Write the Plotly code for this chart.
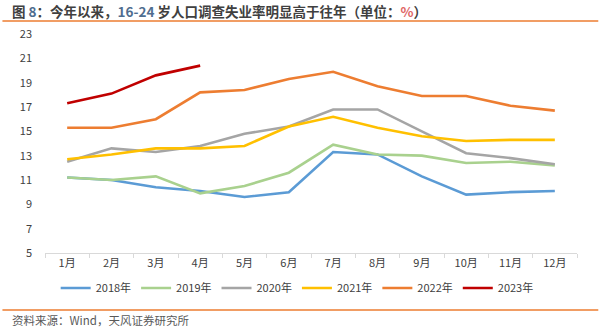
import plotly.graph_objects as go

months = ["1月", "2月", "3月", "4月", "5月", "6月", "7月", "8月", "9月", "10月", "11月", "12月"]
y2018 = [11.2, 11.0, 10.4, 10.1, 9.6, 10.0, 13.3, 13.1, 11.3, 9.8, 10.0, 10.1]
y2019 = [11.2, 11.0, 11.3, 9.9, 10.5, 11.6, 13.9, 13.1, 13.0, 12.4, 12.5, 12.2]
y2020 = [12.5, 13.6, 13.3, 13.8, 14.8, 15.4, 16.8, 16.8, 15.0, 13.2, 12.8, 12.3]
y2021 = [12.7, 13.1, 13.6, 13.6, 13.8, 15.4, 16.2, 15.3, 14.6, 14.2, 14.3, 14.3]
y2022 = [15.3, 15.3, 16.0, 18.2, 18.4, 19.3, 19.9, 18.7, 17.9, 17.9, 17.1, 16.7]
y2023 = [17.3, 18.1, 19.6, 20.4]

series = [
    ("2018年", y2018, "#5B9BD5"),
    ("2019年", y2019, "#A9D18E"),
    ("2020年", y2020, "#A5A5A5"),
    ("2021年", y2021, "#FFC000"),
    ("2022年", y2022, "#ED7D31"),
    ("2023年", y2023, "#C00000"),
]

FONT = "Noto Sans CJK SC, Noto Sans, sans-serif"

fig = go.Figure()
for name, vals, color in series:
    fig.add_trace(go.Scatter(
        x=months[:len(vals)], y=vals, name=name, mode="lines",
        line=dict(color=color, width=2.6), hoverinfo="skip",
    ))

fig.update_layout(
    width=599, height=329,
    margin=dict(l=45, r=22, t=34, b=76),
    paper_bgcolor="white", plot_bgcolor="white",
    font=dict(family=FONT, size=11, color="#404040"),
    showlegend=True,
    legend=dict(
        orientation="h", x=0.474, xanchor="center", y=-0.16, yanchor="middle",
        font=dict(size=11, color="#404040"), itemwidth=30, tracegroupgap=0,
        bgcolor="rgba(0,0,0,0)",
    ),
    xaxis=dict(
        type="category", categoryorder="array", categoryarray=months,
        range=[-0.5, 11.5],
        showline=True, linecolor="#D9D9D9", linewidth=1,
        ticks="outside", tickson="boundaries", ticklen=4, tickcolor="#D9D9D9",
        showgrid=False, zeroline=False,
        tickfont=dict(size=11, color="#404040"),
    ),
    yaxis=dict(
        range=[5, 23], tick0=5, dtick=2, showgrid=False, zeroline=False,
        showline=False, ticks="", ticklabelstandoff=12,
        tickfont=dict(size=11, color="#404040"),
    ),
    shapes=[
        dict(type="line", xref="paper", yref="paper", x0=-0.08, x1=1.04,
             y0=(253 - 21) / 219, y1=(253 - 21) / 219,
             line=dict(color="#ED7D31", width=1.5)),
        dict(type="line", xref="paper", yref="paper", x0=-0.08, x1=1.04,
             y0=(253 - 310) / 219, y1=(253 - 310) / 219,
             line=dict(color="#ED7D31", width=1.5)),
    ],
    annotations=[
        dict(xref="paper", yref="paper", x=(10 - 45) / 532, y=(253 - 11) / 219,
             xanchor="left", yanchor="middle", showarrow=False,
             text="<b>图 <span style='color:#4F6D8F'>8</span>：今年以来，<span style='color:#4F6D8F'>16-24</span> 岁人口调查失业率明显高于往年（单位：<span style='color:#E06666'>%</span>）</b>",
             font=dict(family=FONT, size=13.5, color="#404040")),
        dict(xref="paper", yref="paper", x=(10 - 45) / 532, y=(253 - 320) / 219,
             xanchor="left", yanchor="middle", showarrow=False,
             text="资料来源：Wind，天风证券研究所",
             font=dict(family=FONT, size=11.5, color="#595959")),
    ],
)

fig.write_html("out.html")
